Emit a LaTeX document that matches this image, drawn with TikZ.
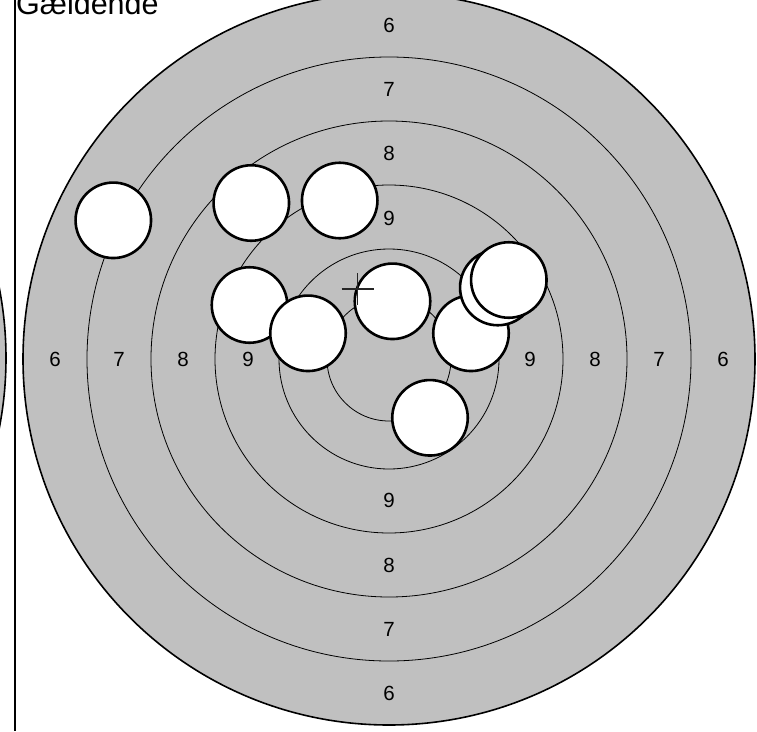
\documentclass[tikz,border=0pt]{standalone}
\usepackage{fontspec}
\setmainfont{Liberation Sans}
\definecolor{tgray}{HTML}{C0C0C0}
\begin{document}
\begin{tikzpicture}[x=1pt,y=-1pt,
  hole/.style={circle, draw=black, line width=2.6pt, fill=white, minimum size=75.5pt, inner sep=0pt},
  ringlabel/.style={inner sep=0pt, font=\fontsize{20.5}{24}\selectfont},
  ring/.style={line width=0.8pt},
  outerring/.style={line width=1.6pt}]
\useasboundingbox (0,0) rectangle (757,731);
\clip (0,0) rectangle (757,731);
% neighbouring target, clipped at the left edge
\filldraw[fill=tgray, outerring] (-360,358) circle (366);
% separator line
\coordinate (lt) at (15,0);
\coordinate (lb) at (15,731);
\draw[line width=1.6pt] (lt) -- (lb);
\node[anchor=base west, inner sep=0pt, font=\fontsize{30.5}{36}\selectfont] (title) at (16,14) {Gældende};
% target
\coordinate (c) at (389,359);
\filldraw[fill=tgray, outerring] (c) circle (366);
\foreach \r in {302,238,174,110,62} \draw[ring] (c) circle (\r);
% ring labels
\foreach \n/\d in {6/334,7/270,8/206,9/141} {
  \node[ringlabel] (t\n) at (389,359-\d) {\n};
  \node[ringlabel] (b\n) at (389,359+\d) {\n};
  \node[ringlabel] (l\n) at (389-\d,359) {\n};
  \node[ringlabel] (r\n) at (389+\d,359) {\n};
}
% shot holes
\node[hole] (h1) at (113.3,220.3) {};
\node[hole] (h2) at (251.3,203) {};
\node[hole] (h3) at (339.7,200.5) {};
\node[hole] (h4) at (249.5,305) {};
\node[hole] (h5) at (308,333.3) {};
\node[hole] (h6) at (392.5,301.3) {};
\node[hole] (h7) at (471,333.3) {};
\node[hole] (h8) at (497.8,287.5) {};
\node[hole] (h9) at (508.8,280) {};
\node[hole] (h10) at (430,417.8) {};
% aiming cross
\coordinate (x0) at (357.5,289);
\coordinate (xl) at (341.5,289);
\coordinate (xr) at (373.5,289);
\coordinate (xt) at (357.5,273.3);
\coordinate (xb) at (357.5,304.5);
\draw[line width=1.4pt, black!85] (xl) -- (xr) (xt) -- (xb);
\end{tikzpicture}
\end{document}
